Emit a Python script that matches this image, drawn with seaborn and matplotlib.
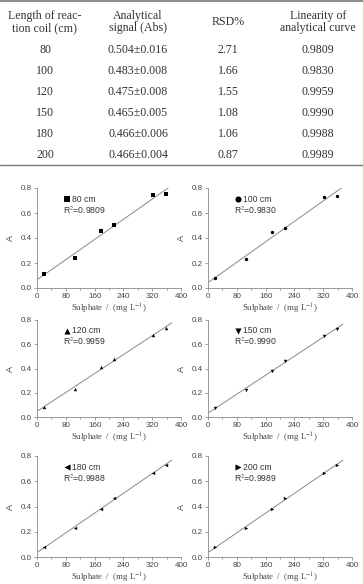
import numpy as np
import pandas as pd
import matplotlib
matplotlib.use('Agg')
import matplotlib.pyplot as plt
import seaborn as sns

# Table data
coil_lengths = [80, 100, 120, 150, 180, 200]
signals = ['0.504\u00b10.016', '0.483\u00b10.008', '0.475\u00b10.008',
           '0.465\u00b10.005', '0.466\u00b10.006', '0.466\u00b10.004']
rsd = ['2.71', '1.66', '1.55', '1.08', '1.06', '0.87']
linearity = ['0.9809', '0.9830', '0.9959', '0.9990', '0.9988', '0.9989']
headers = ['Length of reac-\ntion coil (cm)', 'Analytical\nsignal (Abs)',
           'RSD%', 'Linearity of\nanalytical curve']

# Calibration data
sulphate = [20, 106, 178, 214, 322, 358]
abs_80 = [0.11, 0.24, 0.46, 0.504, 0.745, 0.75]
abs_100 = [0.08, 0.23, 0.445, 0.483, 0.73, 0.735]
abs_120 = [0.085, 0.235, 0.41, 0.475, 0.68, 0.73]
abs_150 = [0.075, 0.225, 0.38, 0.465, 0.665, 0.725]
abs_180 = [0.078, 0.23, 0.383, 0.466, 0.664, 0.732]
abs_200 = [0.078, 0.232, 0.38, 0.466, 0.664, 0.731]
markers = ['s', 'o', '^', 'v', '<', '>']


def main():
    sns.set_theme(style='ticks')
    plt.rcParams['font.family'] = ['Liberation Sans', 'DejaVu Sans']
    plt.rcParams['mathtext.fontset'] = 'stix'

    fig = plt.figure(figsize=(3.63, 5.84), dpi=100)
    W, H = 363, 584

    # ---- table ----
    tab = fig.add_axes([0, 1 - 170 / H, 1, 170 / H])
    tab.set_xlim(0, W)
    tab.set_ylim(170, 0)
    tab.axis('off')
    tab.axhline(1, color='#777777', lw=1.2)
    tab.axhline(165, color='#777777', lw=1.0)
    col_x = [45, 138, 228, 318]
    serif = ['Liberation Serif', 'DejaVu Serif']
    for cx, h in zip(col_x, headers):
        tab.text(cx, 22, h, ha='center', va='center', fontsize=8.6,
                 family=serif, color='#333333', linespacing=1.05)
    for i in range(len(coil_lengths)):
        y = 50 + 21 * i
        row = [str(coil_lengths[i]), signals[i], rsd[i], linearity[i]]
        for cx, val in zip(col_x, row):
            tab.text(cx, y, val, ha='center', va='center', fontsize=8.6,
                     family=serif, color='#333333')

    # ---- calibration panels ----
    series = [abs_80, abs_100, abs_120, abs_150, abs_180, abs_200]
    rows = [(188, 288), (320, 417), (456, 557)]
    lefts = [37, 208]
    for k, (vals, r2) in enumerate(zip(series, linearity)):
        top, bot = rows[k // 2]
        left = lefts[k % 2]
        ax = fig.add_axes([left / W, 1 - bot / H, 144 / W, (bot - top) / H])
        df = pd.DataFrame({'Sulphate': sulphate, 'A': vals})
        sns.scatterplot(data=df, x='Sulphate', y='A', marker=markers[k],
                        color='black', s=6, linewidth=0,
                        label=f'{coil_lengths[k]} cm', ax=ax, zorder=3)
        sns.regplot(data=df, x='Sulphate', y='A', scatter=False, ci=None,
                    truncate=False, ax=ax,
                    line_kws={'color': '#8a8a8a', 'lw': 0.7})
        ax.set_xlim(0, 400)
        ax.set_ylim(0, 0.8)
        ax.set_xticks(np.arange(0, 401, 80))
        ax.set_yticks(np.arange(0, 0.81, 0.2))
        ax.set_xticks(np.arange(0, 401, 40), minor=True)
        ax.set_yticklabels([f'{v:.1f}' for v in np.arange(0, 0.81, 0.2)])
        ax.tick_params(axis='both', which='major', labelsize=5.8,
                       colors='#777777', labelcolor='#444444',
                       length=2, width=0.5, pad=1.5)
        ax.tick_params(axis='x', which='minor', length=1.2, width=0.5,
                       colors='#777777')
        for s in ['left', 'bottom']:
            ax.spines[s].set_color('#888888')
            ax.spines[s].set_linewidth(0.6)
        sns.despine(ax=ax)
        ax.set_ylabel('A', fontsize=6.5, color='#444444', labelpad=4)
        ax.set_xlabel('Sulphate  /  (mg L$^{-1}$)', fontsize=6.3,
                      family=serif, color='#444444', labelpad=1.5)
        ax.legend(loc='center left', bbox_to_anchor=(0.19, 0.89),
                  frameon=False, fontsize=6.2, handlelength=0.6,
                  handletextpad=0.3, borderpad=0, borderaxespad=0,
                  markerscale=1.8, labelcolor='#333333')
        ax.text(0.18, 0.78, f'R$^2$=' + r2, transform=ax.transAxes,
                fontsize=6.2, color='#333333', ha='left', va='center')

    fig.savefig('out.png', dpi=100)


if __name__ == '__main__':
    main()
